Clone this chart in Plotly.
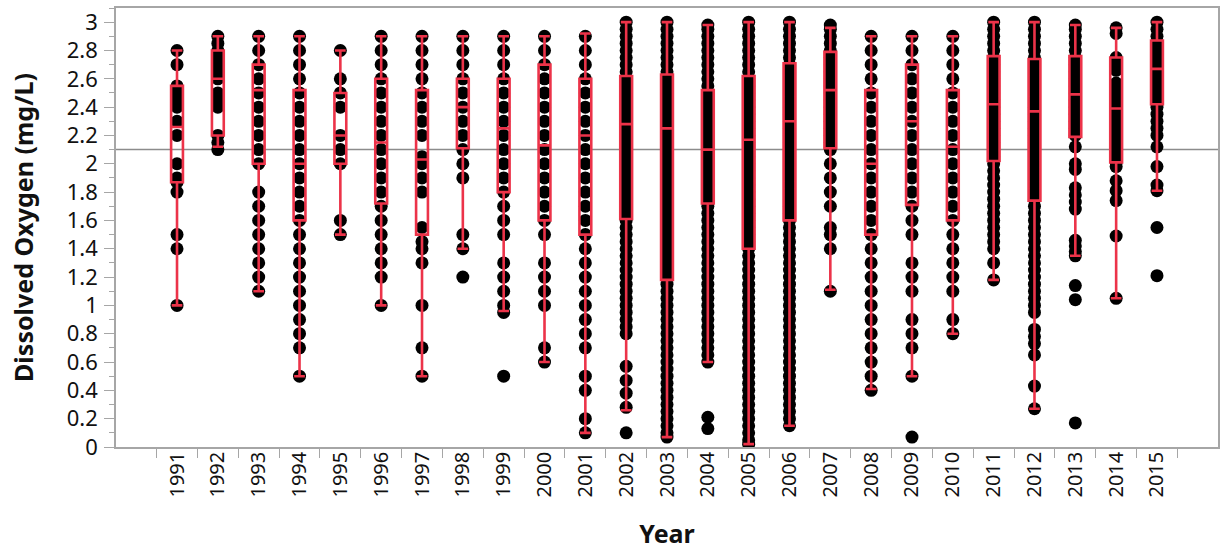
import plotly.graph_objects as go

# ---------------- data ----------------
years = ["1991", "1992", "1993", "1994", "1995", "1996", "1997", "1998", "1999", "2000",
         "2001", "2002", "2003", "2004", "2005", "2006", "2007", "2008", "2009", "2010",
         "2011", "2012", "2013", "2014", "2015"]

# box-plot summary per year (mg/L)
q3 = [2.55, 2.8, 2.7, 2.52, 2.5, 2.6, 2.52, 2.6, 2.6, 2.7, 2.6, 2.62, 2.63, 2.52, 2.62,
      2.71, 2.79, 2.52, 2.7, 2.52, 2.76, 2.74, 2.76, 2.75, 2.87]
median = [2.26, 2.6, 2.52, 2.0, 2.2, 2.15, 2.03, 2.4, 2.25, 2.13, 2.2, 2.28, 2.25, 2.1, 2.17,
          2.3, 2.52, 2.0, 2.3, 2.12, 2.42, 2.37, 2.49, 2.39, 2.67]
q1 = [1.87, 2.2, 2.0, 1.6, 2.0, 1.72, 1.5, 2.11, 1.8, 1.6, 1.5, 1.61, 1.18, 1.72, 1.4,
      1.6, 2.11, 1.5, 1.71, 1.6, 2.02, 1.74, 2.19, 2.01, 2.42]
lower_whisker = [1.0, 2.12, 1.1, 0.5, 1.5, 1.0, 0.5, 1.4, 0.96, 0.6, 0.1, 0.26, 0.07, 0.6, 0.02,
                 0.15, 1.11, 0.41, 0.5, 0.8, 1.18, 0.27, 1.35, 1.05, 1.81]
upper_whisker = [2.8, 2.9, 2.9, 2.9, 2.8, 2.9, 2.9, 2.9, 2.9, 2.9, 2.92, 3.0, 3.0, 2.98, 3.0,
                 3.0, 2.96, 2.9, 2.9, 2.9, 3.0, 3.0, 2.98, 2.96, 3.0]

# distinct observed values per year
do_1991 = [2.8, 2.7, 2.55, 2.5, 2.45, 2.4, 2.3, 2.2, 2.0, 1.9, 1.87, 1.8, 1.5, 1.4, 1.0]
do_1992 = [2.9, 2.85, 2.8, 2.75, 2.7, 2.65, 2.6, 2.5, 2.45, 2.4, 2.2, 2.15, 2.1]
do_1993 = [2.9, 2.8, 2.7, 2.6, 2.5, 2.4, 2.3, 2.2, 2.1, 2.0, 1.8, 1.7, 1.6, 1.5, 1.4, 1.3, 1.2, 1.1]
do_1994 = [2.9, 2.8, 2.7, 2.6, 2.5, 2.4, 2.3, 2.2, 2.1, 2.0, 1.9, 1.8, 1.7, 1.6, 1.5, 1.4, 1.3,
           1.2, 1.1, 1.0, 0.9, 0.8, 0.7, 0.5]
do_1995 = [2.8, 2.6, 2.5, 2.4, 2.2, 2.1, 2.0, 1.6, 1.5]
do_1996 = [2.9, 2.8, 2.7, 2.6, 2.5, 2.4, 2.3, 2.2, 2.1, 2.0, 1.9, 1.8, 1.7, 1.6, 1.5, 1.4, 1.3,
           1.2, 1.0]
do_1997 = [2.9, 2.8, 2.7, 2.6, 2.5, 2.4, 2.3, 2.2, 2.05, 2.0, 1.9, 1.8, 1.55, 1.45, 1.4, 1.3,
           1.0, 0.7, 0.5]
do_1998 = [2.9, 2.8, 2.7, 2.6, 2.5, 2.4, 2.3, 2.2, 2.1, 2.0, 1.9, 1.5, 1.4, 1.2]
do_1999 = [2.9, 2.8, 2.7, 2.6, 2.5, 2.4, 2.3, 2.2, 2.1, 2.0, 1.9, 1.8, 1.7, 1.6, 1.5, 1.3, 1.2,
           1.1, 1.0, 0.95, 0.5]
do_2000 = [2.9, 2.8, 2.7, 2.6, 2.5, 2.4, 2.3, 2.2, 2.1, 2.0, 1.9, 1.8, 1.7, 1.6, 1.5, 1.3, 1.2,
           1.1, 1.0, 0.7, 0.6]
do_2001 = [2.9, 2.8, 2.7, 2.6, 2.5, 2.4, 2.3, 2.2, 2.1, 2.0, 1.9, 1.8, 1.7, 1.6, 1.5, 1.4, 1.3,
           1.2, 1.1, 1.0, 0.9, 0.8, 0.7, 0.5, 0.4, 0.2, 0.1]
do_2002 = [3.0, 2.95, 2.9, 2.85, 2.8, 2.75, 2.7, 2.65, 2.6, 2.55, 2.5, 2.45, 2.4, 2.35, 2.3,
           2.25, 2.2, 2.15, 2.1, 2.05, 2.0, 1.95, 1.9, 1.85, 1.8, 1.75, 1.7, 1.65, 1.6, 1.55,
           1.5, 1.45, 1.4, 1.35, 1.3, 1.25, 1.2, 1.15, 1.1, 1.05, 1.0, 0.95, 0.9, 0.85, 0.8,
           0.57, 0.47, 0.38, 0.28, 0.1]
do_2003 = [3.0, 2.95, 2.9, 2.85, 2.8, 2.75, 2.7, 2.65, 2.6, 2.55, 2.5, 2.45, 2.4, 2.35, 2.3,
           2.25, 2.2, 2.15, 2.1, 2.05, 2.0, 1.95, 1.9, 1.85, 1.8, 1.75, 1.7, 1.65, 1.6, 1.55,
           1.5, 1.45, 1.4, 1.35, 1.3, 1.25, 1.2, 1.15, 1.1, 1.05, 1.0, 0.95, 0.9, 0.85, 0.8,
           0.75, 0.7, 0.65, 0.6, 0.55, 0.5, 0.45, 0.4, 0.35, 0.3, 0.25, 0.2, 0.15, 0.1, 0.07]
do_2004 = [2.98, 2.95, 2.9, 2.85, 2.8, 2.75, 2.7, 2.65, 2.6, 2.55, 2.5, 2.45, 2.4, 2.35, 2.3,
           2.25, 2.2, 2.15, 2.1, 2.05, 2.0, 1.95, 1.9, 1.85, 1.8, 1.75, 1.7, 1.65, 1.6, 1.55,
           1.5, 1.45, 1.4, 1.35, 1.3, 1.25, 1.2, 1.15, 1.1, 1.05, 1.0, 0.95, 0.9, 0.85, 0.8,
           0.75, 0.7, 0.65, 0.6, 0.21, 0.13]
do_2005 = [3.0, 2.95, 2.9, 2.85, 2.8, 2.75, 2.7, 2.65, 2.6, 2.55, 2.5, 2.45, 2.4, 2.35, 2.3,
           2.25, 2.2, 2.15, 2.1, 2.05, 2.0, 1.95, 1.9, 1.85, 1.8, 1.75, 1.7, 1.65, 1.6, 1.55,
           1.5, 1.45, 1.4, 1.35, 1.3, 1.25, 1.2, 1.15, 1.1, 1.05, 1.0, 0.95, 0.9, 0.85, 0.8,
           0.75, 0.7, 0.65, 0.6, 0.55, 0.5, 0.45, 0.4, 0.35, 0.3, 0.25, 0.2, 0.15, 0.1, 0.05,
           0.02]
do_2006 = [3.0, 2.95, 2.9, 2.85, 2.8, 2.75, 2.7, 2.65, 2.6, 2.55, 2.5, 2.45, 2.4, 2.35, 2.3,
           2.25, 2.2, 2.15, 2.1, 2.05, 2.0, 1.95, 1.9, 1.85, 1.8, 1.75, 1.7, 1.65, 1.6, 1.55,
           1.5, 1.45, 1.4, 1.35, 1.3, 1.25, 1.2, 1.15, 1.1, 1.05, 1.0, 0.95, 0.9, 0.85, 0.8,
           0.75, 0.7, 0.65, 0.6, 0.55, 0.5, 0.45, 0.4, 0.35, 0.3, 0.25, 0.2, 0.15]
do_2007 = [2.98, 2.95, 2.9, 2.85, 2.8, 2.75, 2.7, 2.65, 2.6, 2.55, 2.5, 2.45, 2.4, 2.35, 2.3,
           2.25, 2.2, 2.15, 2.1, 2.0, 1.9, 1.8, 1.7, 1.55, 1.5, 1.4, 1.1]
do_2008 = [2.9, 2.8, 2.7, 2.6, 2.5, 2.4, 2.3, 2.2, 2.1, 2.0, 1.9, 1.8, 1.7, 1.6, 1.5, 1.4, 1.3,
           1.2, 1.1, 1.0, 0.9, 0.8, 0.7, 0.6, 0.5, 0.4]
do_2009 = [2.9, 2.8, 2.7, 2.6, 2.5, 2.4, 2.3, 2.2, 2.1, 2.0, 1.9, 1.8, 1.7, 1.6, 1.5, 1.3, 1.2,
           1.1, 0.9, 0.8, 0.7, 0.5, 0.07]
do_2010 = [2.9, 2.8, 2.7, 2.6, 2.5, 2.4, 2.3, 2.2, 2.1, 2.0, 1.9, 1.8, 1.7, 1.6, 1.5, 1.4, 1.3,
           1.2, 1.1, 0.9, 0.8]
do_2011 = [3.0, 2.95, 2.9, 2.85, 2.8, 2.75, 2.7, 2.65, 2.6, 2.55, 2.5, 2.45, 2.4, 2.35, 2.3,
           2.25, 2.2, 2.15, 2.1, 2.05, 2.0, 1.95, 1.9, 1.85, 1.8, 1.75, 1.7, 1.65, 1.6, 1.55,
           1.5, 1.45, 1.4, 1.3, 1.18]
do_2012 = [3.0, 2.95, 2.9, 2.85, 2.8, 2.75, 2.7, 2.65, 2.6, 2.55, 2.5, 2.45, 2.4, 2.35, 2.3,
           2.25, 2.2, 2.15, 2.1, 2.05, 2.0, 1.95, 1.9, 1.85, 1.8, 1.75, 1.7, 1.65, 1.6, 1.55,
           1.5, 1.45, 1.4, 1.35, 1.3, 1.25, 1.2, 1.15, 1.1, 1.05, 1.0, 0.95, 0.83, 0.78, 0.73,
           0.65, 0.43, 0.27]
do_2013 = [2.98, 2.95, 2.9, 2.85, 2.8, 2.75, 2.7, 2.65, 2.6, 2.55, 2.5, 2.45, 2.4, 2.35, 2.3,
           2.25, 2.2, 2.12, 2.0, 1.96, 1.83, 1.78, 1.73, 1.68, 1.46, 1.42, 1.38, 1.35, 1.14,
           1.04, 0.17]
do_2014 = [2.96, 2.92, 2.75, 2.7, 2.66, 2.57, 2.55, 2.5, 2.45, 2.4, 2.35, 2.3, 2.25, 2.2, 2.15,
           2.1, 2.05, 2.01, 1.98, 1.88, 1.81, 1.74, 1.49, 1.05]
do_2015 = [3.0, 2.95, 2.9, 2.85, 2.8, 2.75, 2.7, 2.65, 2.6, 2.55, 2.5, 2.45, 2.4, 2.35, 2.3,
           2.25, 2.2, 2.12, 1.98, 1.85, 1.81, 1.55, 1.21]

values_by_year = [do_1991, do_1992, do_1993, do_1994, do_1995, do_1996, do_1997, do_1998,
                  do_1999, do_2000, do_2001, do_2002, do_2003, do_2004, do_2005, do_2006,
                  do_2007, do_2008, do_2009, do_2010, do_2011, do_2012, do_2013, do_2014,
                  do_2015]

reference_level = 2.1  # horizontal reference line (mg/L)

# ---------------- figure ----------------
RED = "#ec3349"
FONT = "Noto Sans"
TXT = "#111111"
AXC = "#a6a6a6"

pts_x, pts_y = [], []
for yr, vals in zip(years, values_by_year):
    pts_x.extend([yr] * len(vals))
    pts_y.extend(vals)

fig = go.Figure()

# observed values (drawn as box points so the red boxes sit on top of them)
fig.add_trace(go.Box(
    x=pts_x, y=pts_y,
    boxpoints="all", jitter=0, pointpos=0,
    marker=dict(color="black", size=13, line=dict(width=0)),
    line=dict(width=0, color="rgba(0,0,0,0)"),
    fillcolor="rgba(0,0,0,0)",
    hoverinfo="skip", showlegend=False,
))

# outlier box plots
fig.add_trace(go.Box(
    x=years, q1=q1, median=median, q3=q3,
    lowerfence=lower_whisker, upperfence=upper_whisker,
    boxpoints=False,
    width=0.29, whiskerwidth=0.9,
    line=dict(color=RED, width=2.6),
    fillcolor="rgba(0,0,0,0)",
    showlegend=False,
))

fig.add_hline(y=reference_level, line=dict(color="#8c8c8c", width=1.5), layer="below")

fig.update_layout(
    width=1223, height=550,
    margin=dict(l=116, r=3, t=8, b=103),
    plot_bgcolor="white", paper_bgcolor="white",
    boxmode="overlay",
    font=dict(family=FONT, color=TXT),
    showlegend=False,
)

fig.update_xaxes(
    type="category", categoryorder="array", categoryarray=years,
    tickangle=-90, tickfont=dict(size=20, family=FONT, color=TXT),
    ticks="outside", tickson="boundaries", ticklen=9, tickcolor=AXC,
    ticklabelstandoff=-5,
    showline=True, linecolor=AXC, linewidth=1.5, mirror=True,
    showgrid=False, zeroline=False,
    title=dict(text="Year", font=dict(size=25, family=FONT, weight="bold", color=TXT),
               standoff=30),
)

fig.update_yaxes(
    range=[0, 3.1], dtick=0.2, tick0=0,
    tickfont=dict(size=22, family=FONT, color=TXT),
    ticks="outside", ticklen=10, tickcolor=AXC,
    ticklabelstandoff=2,
    minor=dict(dtick=0.1, ticks="outside", ticklen=5, tickcolor=AXC),
    showline=True, linecolor=AXC, linewidth=1.5, mirror=True,
    showgrid=False, zeroline=False,
    title=dict(text="Dissolved Oxygen (mg/L)",
               font=dict(size=25, family=FONT, weight="bold", color=TXT),
               standoff=26),
)

fig.write_html("out.html", config={"displayModeBar": False},
               post_script="document.body.style.margin='0px';")
